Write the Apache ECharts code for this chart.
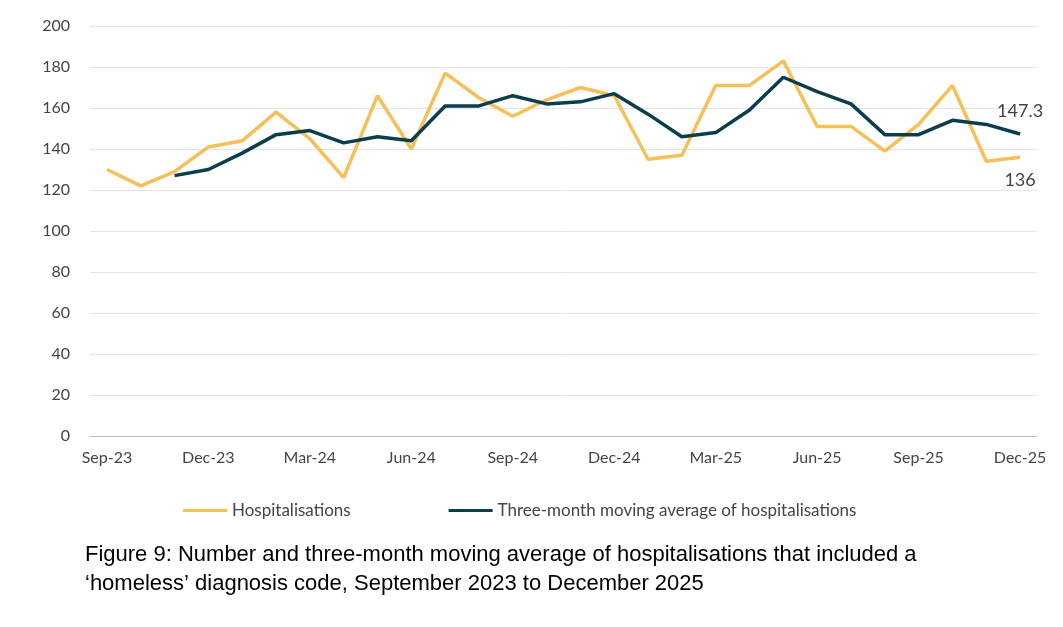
<!DOCTYPE html>
<html><head><meta charset="utf-8">
<script src="https://cdn.jsdelivr.net/npm/echarts@6/dist/echarts.min.js"></script>
<style>body{margin:0;background:#fff}#c{width:1063px;height:627px}</style>
</head><body><div id="c"></div>
<script>
const months = ['Sep-23','Oct-23','Nov-23','Dec-23','Jan-24','Feb-24','Mar-24','Apr-24','May-24','Jun-24','Jul-24','Aug-24','Sep-24','Oct-24','Nov-24','Dec-24','Jan-25','Feb-25','Mar-25','Apr-25','May-25','Jun-25','Jul-25','Aug-25','Sep-25','Oct-25','Nov-25','Dec-25'];
const hospitalisations = [130,122,129,141,144,158,145,126,166,140,177,165,156,164,170,166,135,137,171,171,183,151,151,139,152,171,134,136];
const movingAvg = [null,null,127,130,138,147,149,143,146,144,161,161,166,162,163,167,157,146,148,159,175,168,162,147,147,154,152,147.3];

const chart = echarts.init(document.getElementById('c'));
const last = months.length - 1;
chart.setOption({
  animation: false,
  textStyle: {fontFamily: 'Lato, sans-serif'},
  grid: {left: 90, right: 26, top: 26, bottom: 191},
  title: {
    text: 'Figure 9: Number and three-month moving average of hospitalisations that included a\n\u2018homeless\u2019 diagnosis code, September 2023 to December 2025',
    left: 80, top: 535,
    textStyle: {fontFamily: 'Liberation Sans, Arial, sans-serif', fontWeight: 'normal', fontSize: 22, lineHeight: 29, color: '#000'}
  },
  legend: {
    top: 497, left: 178, itemGap: 98, itemWidth: 44, itemHeight: 3,
    textStyle: {fontSize: 17, color: '#444'},
    data: [{name: 'Hospitalisations', icon: 'rect'}, {name: 'Three-month moving average of hospitalisations', icon: 'rect'}]
  },
  xAxis: {
    type: 'category', data: months, boundaryGap: true,
    axisLine: {lineStyle: {color: '#bbb'}},
    axisTick: {interval: 2, lineStyle: {color: '#bbb'}},
    axisLabel: {interval: 2, color: '#444', fontSize: 16, margin: 14}
  },
  yAxis: {
    type: 'value', min: 0, max: 200, interval: 20,
    axisLabel: {color: '#444', fontSize: 16, margin: 20},
    splitLine: {lineStyle: {color: '#e4e4e4'}}
  },
  series: [
    {name: 'Hospitalisations', type: 'line', data: hospitalisations, symbol: 'none',
     lineStyle: {color: '#f7bf58', width: 3.5}, itemStyle: {color: '#f7bf58'},
     markPoint: {symbol: 'circle', symbolSize: 0, data: [{coord: [last, hospitalisations[last]], value: hospitalisations[last]}],
       label: {show: true, position: 'bottom', distance: 14, color: '#444', fontSize: 18}}},
    {name: 'Three-month moving average of hospitalisations', type: 'line', data: movingAvg, symbol: 'none',
     lineStyle: {color: '#0b3d4a', width: 3.5}, itemStyle: {color: '#0b3d4a'},
     markPoint: {symbol: 'circle', symbolSize: 0, data: [{coord: [last, movingAvg[last]], value: movingAvg[last]}],
       label: {show: true, position: 'top', distance: 14, color: '#444', fontSize: 18}}}
  ]
});
</script></body></html>
